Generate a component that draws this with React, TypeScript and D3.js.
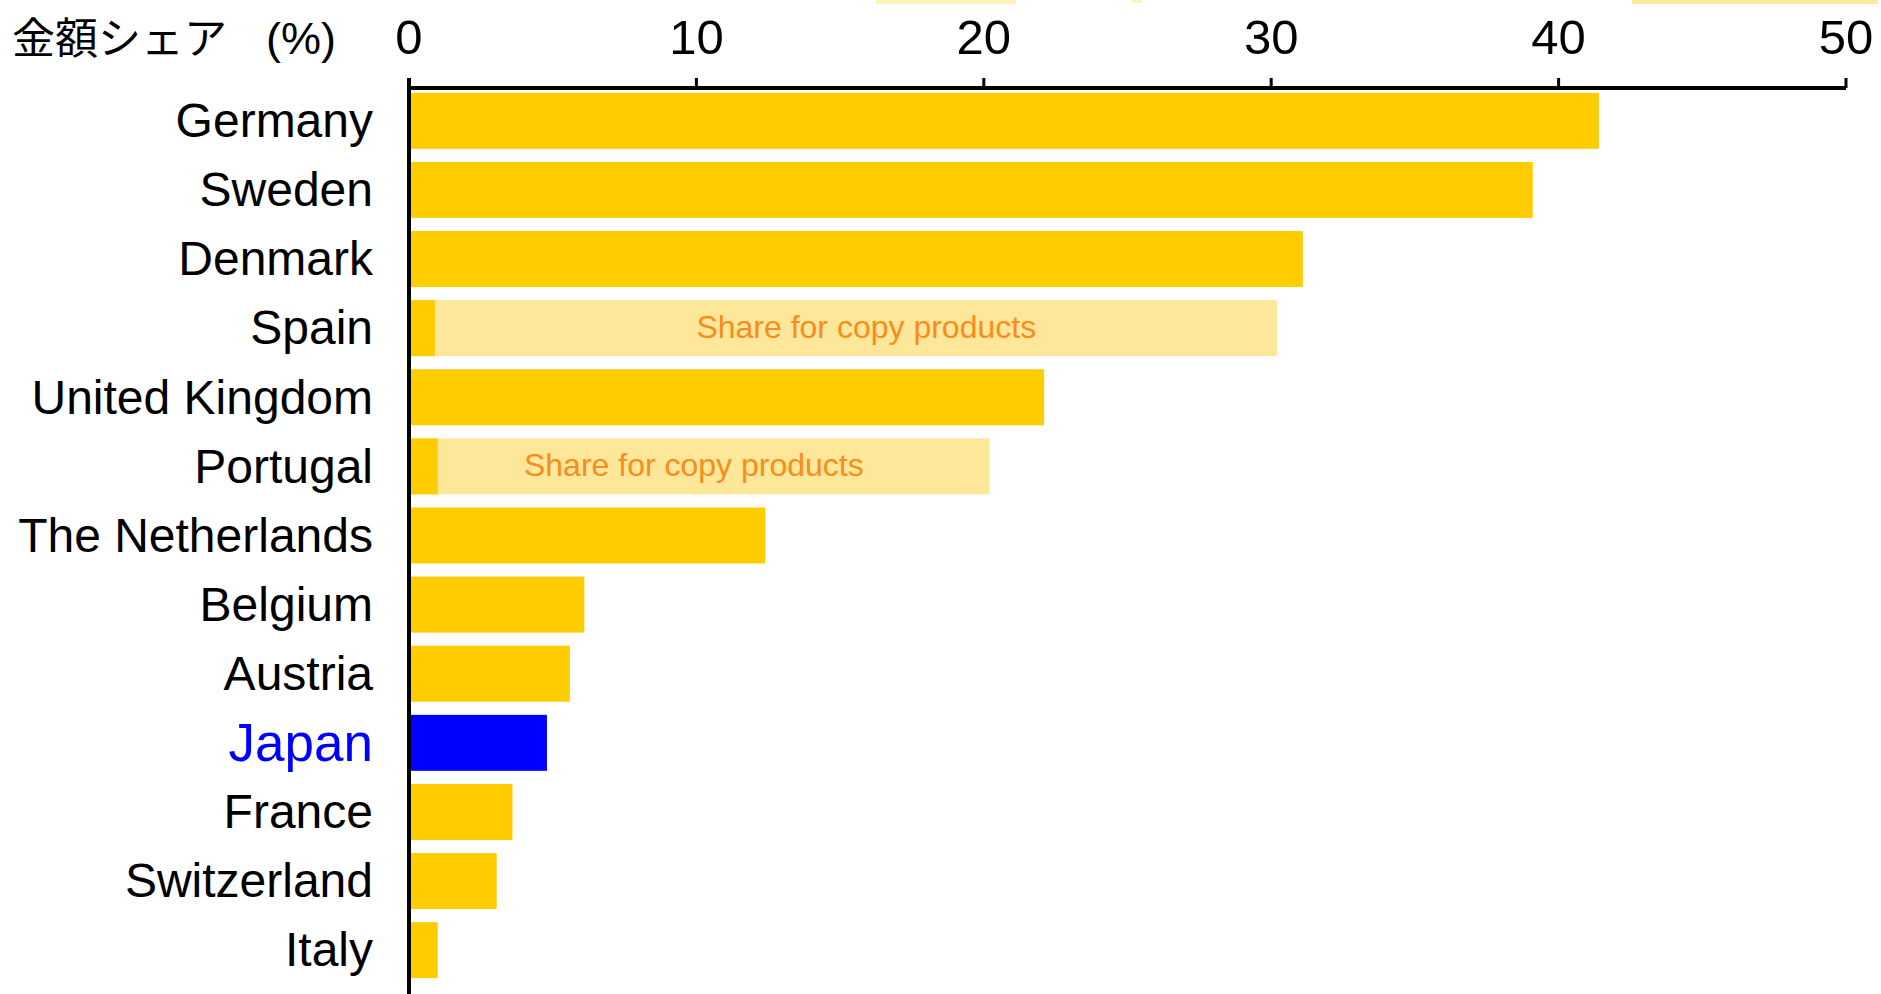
import React from "react";
import * as d3 from "d3";

// Value share (%) by country
const countries = [
  "Germany",
  "Sweden",
  "Denmark",
  "Spain",
  "United Kingdom",
  "Portugal",
  "The Netherlands",
  "Belgium",
  "Austria",
  "Japan",
  "France",
  "Switzerland",
  "Italy",
];
const shares = [41.4, 39.1, 31.1, 0.9, 22.1, 1.0, 12.4, 6.1, 5.6, 4.8, 3.6, 3.05, 1.0];

// Extra share taken by copy products (only for some countries)
const copyCountries = ["Spain", "Portugal"];
const copyTotals = [30.2, 20.2];
const copyLabelStart = [10, 4];
const copyLabel = "Share for copy products";

const highlight = "Japan";
const axisTicks = [0, 10, 20, 30, 40, 50];
const axisTitle = "金額シェア";
const axisUnit = "(%)";

const W = 1881;
const H = 994;
const FONT = "'Liberation Sans', Arial, Helvetica, sans-serif";
const CJK = "'Noto Sans CJK JP', 'Liberation Sans', sans-serif";

const YELLOW = "#ffcc00";
const LIGHT = "#fee799";
const ORANGE = "#f88d1d";
const BLUE = "#0000ff";

export default function App() {
  const axisY = 88;
  const x = d3.scaleLinear().domain([0, 50]).range([409, 1846]);
  const y = d3
    .scaleBand<string>()
    .domain(countries)
    .range([axisY, 983])
    .paddingInner(0.19)
    .paddingOuter(0.07);
  const bw = y.bandwidth();

  return (
    <svg
      width={W}
      height={H}
      viewBox={`0 0 ${W} ${H}`}
      style={{ position: "absolute", left: 0, top: 0, background: "#fff" }}
    >
      {/* faint highlighter traces along the top edge */}
      <rect x={876} y={0} width={140} height={4} fill="#fbe26a" opacity={0.45} />
      <rect x={1132} y={0} width={10} height={3} fill="#fbe26a" opacity={0.4} />
      <rect x={1632} y={0} width={246} height={4} fill="#fbd84a" opacity={0.55} />

      {/* axis title */}
      <text x={12} y={54} fontFamily={CJK} fontSize={43} fill="#000">
        {axisTitle}
      </text>
      <text x={266} y={54} fontFamily={FONT} fontSize={45} fill="#000">
        {axisUnit}
      </text>

      {/* light bars for copy product share */}
      {copyCountries.map((c, i) => (
        <g key={c}>
          <rect
            x={x(0)}
            y={y(c)!}
            width={x(copyTotals[i]) - x(0)}
            height={bw}
            fill={LIGHT}
          />
          <text
            x={x(copyLabelStart[i])}
            y={y(c)! + bw / 2 + 10}
            fontFamily={FONT}
            fontSize={32}
            fill={ORANGE}
          >
            {copyLabel}
          </text>
        </g>
      ))}

      {/* main bars */}
      {countries.map((c, i) => (
        <rect
          key={c}
          x={x(0)}
          y={y(c)!}
          width={x(shares[i]) - x(0)}
          height={bw}
          fill={c === highlight ? BLUE : YELLOW}
        />
      ))}

      {/* category labels */}
      {countries.map((c) => {
        const isHi = c === highlight;
        const fs = isHi ? 53 : 48;
        return (
          <text
            key={c}
            x={373}
            y={y(c)! + bw / 2 + fs * 0.34}
            textAnchor="end"
            fontFamily={FONT}
            fontSize={fs}
            fill={isHi ? BLUE : "#000"}
          >
            {c}
          </text>
        );
      })}

      {/* top axis */}
      <line x1={x(0)} x2={x(50)} y1={axisY} y2={axisY} stroke="#000" strokeWidth={4} />
      {axisTicks.map((t) => (
        <g key={t}>
          <line x1={x(t)} x2={x(t)} y1={axisY} y2={axisY - 10} stroke="#000" strokeWidth={3} />
          <text
            x={x(t)}
            y={54}
            textAnchor="middle"
            fontFamily={FONT}
            fontSize={49}
            fill="#000"
          >
            {t}
          </text>
        </g>
      ))}
      <line x1={x(0)} x2={x(0)} y1={axisY - 10} y2={H} stroke="#000" strokeWidth={4} />
    </svg>
  );
}
